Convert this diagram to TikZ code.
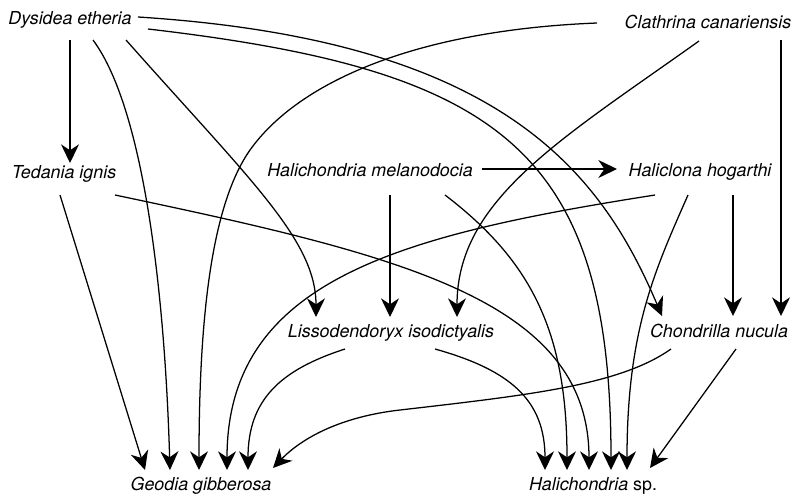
\documentclass[tikz,border=0pt]{standalone}
\usepackage{fontspec}
\setmainfont{TeX Gyre Heros}
\usetikzlibrary{arrows.meta,calc}

\tikzset{every picture/.style={line width=0.95pt}}
\tikzset{
  taxon/.style={anchor=base, inner sep=0pt, font=\fontsize{13.4}{15}\selectfont\itshape},
  link/.style={-{Stealth[length=14pt,width=13.5pt,inset=4.5pt]}}
}

\begin{document}
\begin{tikzpicture}[x=0.75pt,y=0.75pt,yscale=-1,xscale=1]
\useasboundingbox (0,0) rectangle (795,493);

% Taxa
\node [taxon] (de) at (70,24) {Dysidea etheria};
\node [taxon] (cc) at (708,28) {Clathrina canariensis};
\node [taxon] (te) at (64,178) {Tedania ignis};
\node [taxon] (hm) at (370,176) {Halichondria melanodocia};
\node [taxon] (hh) at (700,176) {Haliclona hogarthi};
\node [taxon] (ld) at (391,337) {Lissodendoryx isodictyalis};
\node [taxon] (cn) at (719,337) {Chondrilla nucula};
\node [taxon] (gg) at (201,490) {Geodia gibberosa};
\node [taxon] (hs) at (593,490) {Halichondria \textup{sp.}};

%Straight Lines
\draw [link] ($(de.base)+(0,16)$) -- ($(te.base)+(6,-15)$);
\draw [link] ($(cc.base)+(73,12)$) -- ($(cn.base)+(62,-21)$);
\draw [link] ($(te.base)+(-4,17)$) -- ($(gg.base)+(-56,-20)$);
\draw [link] ($(hm.base)+(112,-7)$) -- ($(hh.base)+(-83,-7)$);
\draw [link] ($(hm.base)+(20,19)$) -- ($(ld.base)+(-1,-20)$);
\draw [link] ($(hh.base)+(33,19)$) -- ($(cn.base)+(14,-21)$);
\draw [link] ($(cn.base)+(17,12)$) -- ($(hs.base)+(57,-22)$);

%Curve Lines
\draw [link] ($(de.base)+(23,16)$) .. controls +(52,70) and +(-5,-170) .. ($(gg.base)+(-31,-20)$);
\draw [link] ($(de.base)+(56,16)$) .. controls +(124,140) and +(0,-77) .. ($(ld.base)+(-75,-20)$);
\draw [link] ($(de.base)+(68,-7)$) .. controls +(362,23) and +(-62,-146) .. ($(cn.base)+(-57,-21)$);
\draw [link] ($(de.base)+(78,5)$) .. controls +(352,41) and +(0,-320) .. ($(hs.base)+(18,-20)$);
\draw [link] ($(cc.base)+(-111,-5)$) .. controls +(-177,7) and +(50,-70) .. (250,150) .. controls +(-35,50) and +(0,-170) .. ($(gg.base)+(-2,-20)$);
\draw [link] ($(cc.base)+(-9,13)$) .. controls +(-139,99) and +(0,-117) .. ($(ld.base)+(66,-20)$);
\draw [link] ($(te.base)+(51,17)$) .. controls +(285,60) and +(0,-170) .. ($(hs.base)+(-4,-20)$);
\draw [link] ($(hm.base)+(75,19)$) .. controls +(85,65) and +(0,-140) .. ($(hs.base)+(-26,-20)$);
\draw [link] ($(hh.base)+(-45,19)$) .. controls +(-255,40) and +(0,-190) .. ($(gg.base)+(26,-20)$);
\draw [link] ($(hh.base)+(-12,19)$) .. controls +(-33,75) and +(0,-140) .. ($(hs.base)+(34,-20)$);
\draw [link] ($(ld.base)+(-46,12)$) .. controls +(-65,21) and +(0,-70) .. ($(gg.base)+(47,-20)$);
\draw [link] ($(ld.base)+(44,12)$) .. controls +(75,21) and +(0,-70) .. ($(hs.base)+(-48,-20)$);
\draw [link] ($(cn.base)+(-48,12)$) .. controls +(-51,36) and +(130,-15) .. (400,410) .. controls +(-70,8) and +(22,-23) .. ($(gg.base)+(72,-22)$);

\end{tikzpicture}
\end{document}
